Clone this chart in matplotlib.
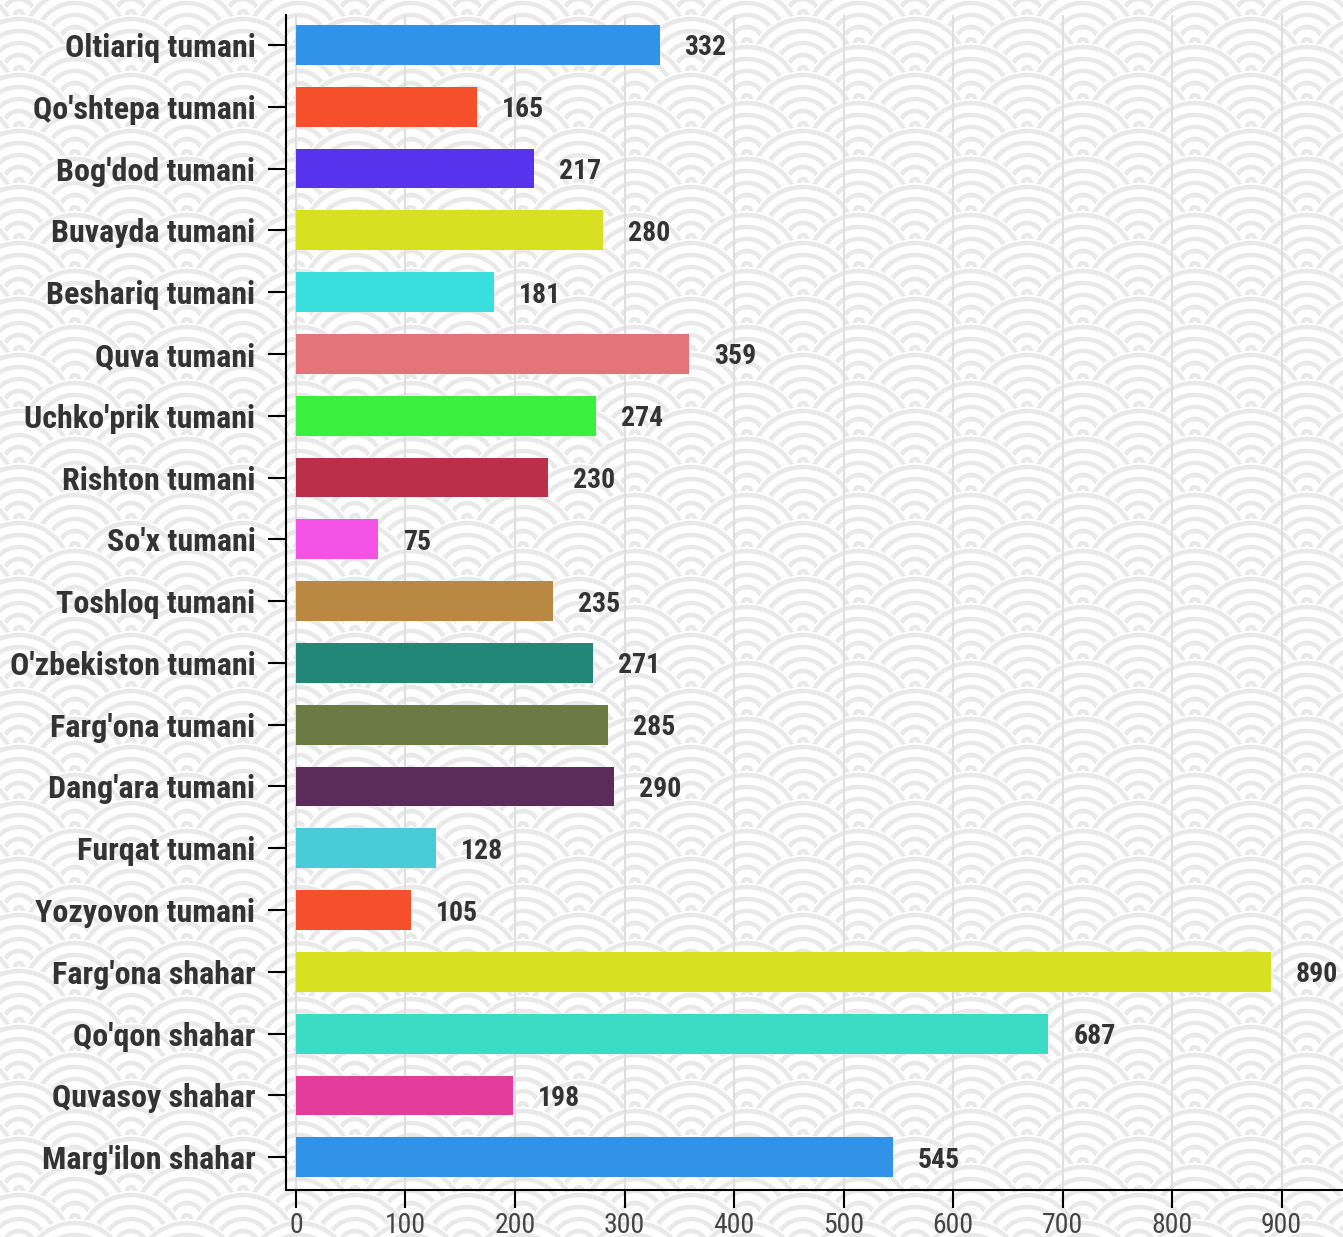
import numpy as np
import matplotlib
matplotlib.use("Agg")
from matplotlib import pyplot as plt
from matplotlib.patches import Circle
from matplotlib.collections import PatchCollection

# Data
districts = ["Oltiariq tumani", "Qo'shtepa tumani", "Bog'dod tumani", "Buvayda tumani",
             "Beshariq tumani", "Quva tumani", "Uchko'prik tumani", "Rishton tumani",
             "So'x tumani", "Toshloq tumani", "O'zbekiston tumani", "Farg'ona tumani",
             "Dang'ara tumani", "Furqat tumani", "Yozyovon tumani", "Farg'ona shahar",
             "Qo'qon shahar", "Quvasoy shahar", "Marg'ilon shahar"]
values = [332, 165, 217, 280, 181, 359, 274, 230, 75, 235, 271, 285, 290, 128, 105,
          890, 687, 198, 545]
colors = ["#3093e8", "#f5502b", "#5833ee", "#d8e022", "#38dfdc", "#e5737a", "#3bef3f",
          "#bb2f4a", "#f452e4", "#b98944", "#238778", "#6c7b43", "#5b2c5a", "#4acbd8",
          "#f5502b", "#d8e022", "#3cdcc4", "#e43c9c", "#3093e8"]
xticks = [0, 100, 200, 300, 400, 500, 600, 700, 800, 900]

plt.rcParams['font.family'] = ['Roboto Condensed', 'Roboto', 'DejaVu Sans']

W, H = 1343, 1237
fig = plt.figure(figsize=(W / 100, H / 100), dpi=100)

# Seigaiha wave background, in pixel coordinates
bg = fig.add_axes([0, 0, 1, 1], zorder=0)
bg.set_xlim(0, W)
bg.set_ylim(H, 0)
bg.axis("off")
R = 56
ring_r = [4, 16, 28, 40, 52]
patches, fcs, ecs, lws = [], [], [], []
for j in range(-3, int(H / 28) + 4):
    cy = 15 + 28 * j
    x0 = 75 if j % 2 else 131
    for k in range(-2, int(W / 112) + 3):
        cx = x0 + 112 * k
        patches.append(Circle((cx, cy), R))
        fcs.append("white"); ecs.append("none"); lws.append(0)
        for r in ring_r:
            patches.append(Circle((cx, cy), r))
            fcs.append("none"); ecs.append("#e9e9e9"); lws.append(4.5 * 0.72)
bg.add_collection(PatchCollection(patches, facecolors=fcs, edgecolors=ecs,
                                  linewidths=lws))

# Main chart
ax = fig.add_axes([286 / W, 47 / H, 1 - 286 / W, (1190 - 15) / H], zorder=1)
ax.patch.set_alpha(0)
y = np.arange(len(districts))
ax.barh(y, values, height=0.645, color=colors, zorder=3)
for yi, v in zip(y, values):
    ax.annotate(str(v), (v, yi), xytext=(18, 0), textcoords="offset points",
                va="center_baseline", ha="left", fontsize=20, fontweight="bold",
                color="#333333")

ax.set_xlim(-9.1, 956)
ax.set_ylim(18.53, -0.485)
ax.set_yticks(y)
ax.set_yticklabels(districts, fontsize=23, fontweight="bold", color="#333333",
                   va="center_baseline")
ax.set_xticks(xticks)
ax.set_xticklabels([str(t) for t in xticks], fontsize=20, color="#444444")
ax.tick_params(axis="y", length=13, width=1.5, pad=9, color="black")
ax.tick_params(axis="x", length=13, width=1.5, pad=3, color="black")
ax.grid(axis="x", color="#dedede", linewidth=1.5, zorder=1)
ax.set_axisbelow(True)
for s in ["top", "right"]:
    ax.spines[s].set_visible(False)
for s in ["left", "bottom"]:
    ax.spines[s].set_linewidth(1.5)
    ax.spines[s].set_color("black")

fig.savefig("out.png", dpi=100)
